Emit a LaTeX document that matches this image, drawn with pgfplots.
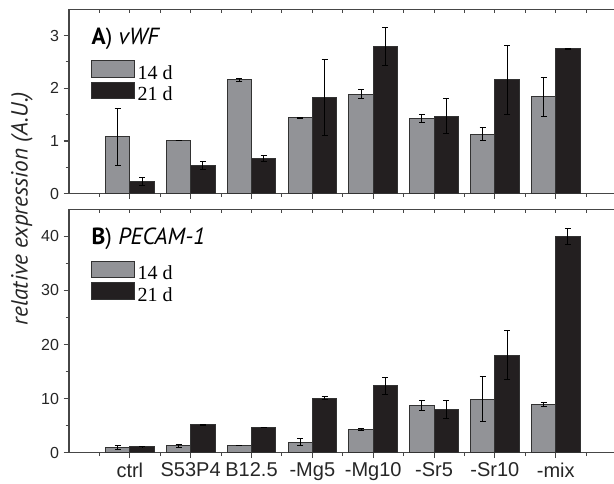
\documentclass[border=0pt]{standalone}
\usepackage{fontspec}
\setmainfont{Liberation Sans}
\newfontfamily\legfont{Liberation Serif}
\newfontfamily\ttlfont{PT Sans}
\usepackage{pgfplots}
\pgfplotsset{compat=1.18}
\usepackage{pgfplotstable}
\definecolor{bargray}{RGB}{146,147,151}
\definecolor{barblack}{RGB}{35,31,32}
\definecolor{edge}{RGB}{50,50,50}
\definecolor{axcol}{RGB}{70,70,70}

\pgfplotstableread{
x y e
1 1.08 0.54
2 1.00 0
3 2.16 0.03
4 1.44 0.01
5 1.89 0.09
6 1.42 0.075
7 1.13 0.13
8 1.84 0.37
}\vwfA
\pgfplotstableread{
x y e
1 0.23 0.08
2 0.53 0.08
3 0.67 0.05
4 1.82 0.72
5 2.80 0.36
6 1.47 0.33
7 2.16 0.66
8 2.75 0.01
}\vwfB
\pgfplotstableread{
x y e
1 0.95 0.4
2 1.30 0.3
3 1.30 0
4 1.90 0.65
5 4.31 0.12
6 8.69 0.98
7 9.92 4.1
8 8.87 0.4
}\pecA
\pgfplotstableread{
x y e
1 1.10 0.05
2 5.17 0.08
3 4.74 0
4 10.10 0.3
5 12.38 1.55
6 7.95 1.66
7 18.05 4.5
8 40.00 1.5
}\pecB

\pgfplotsset{
  panel/.style={
    scale only axis,
    width=408.75pt,
    xmin=0, xmax=8.958,
    axis x line*=bottom, axis y line*=left,
    axis line style={axcol, line width=0.8pt},
    xtick={1,...,8},
    minor xtick={0.5,1.5,...,8.5},
    tick align=outside,
    major tick length=4pt, minor tick length=2.5pt,
    every tick/.style={axcol, line width=0.8pt},
    /pgf/number format/assume math mode=true,
    yticklabel style={font=\fontsize{12}{13}\selectfont, text=black!85},
    xticklabel style={font=\fontsize{15}{16}\selectfont, text=black!85},
    ybar, bar width=0.4,
    legend image code/.code={\draw[##1] (0pt,-2.8pt) rectangle (32.25pt,9.7pt);},
    legend cell align=left,
    legend style={draw=none, fill=none, anchor=north west, inner sep=0pt,
      font=\legfont\fontsize{15}{16}\selectfont, row sep=-2pt,
      /tikz/every even column/.append style={column sep=0pt}},
  },
  gbar/.style={fill=bargray, draw=edge, line width=0.75pt, bar shift=-0.2,
    error bars/.cd, y dir=both, y explicit,
    error bar style={black, line width=0.75pt},
    error mark options={rotate=90, mark size=2.25pt, black, line width=0.75pt}},
  kbar/.style={fill=barblack, draw=edge, line width=0.75pt, bar shift=0.2,
    error bars/.cd, y dir=both, y explicit,
    error bar style={black, line width=0.75pt},
    error mark options={rotate=90, mark size=2.25pt, black, line width=0.75pt}},
  topline/.style={
    scale only axis, width=408.75pt,
    xmin=0, xmax=8.958, ymin=0, ymax=1,
    axis x line*=top, axis y line=none,
    axis line style={axcol, line width=0.8pt},
    xtick={0.5,1,...,8.5}, xticklabels={},
    tick align=inside, major tick length=2.5pt,
    every tick/.style={axcol, line width=0.8pt},
  },
}

\begin{document}
\begin{tikzpicture}
% top panel
\begin{axis}[panel, at={(0pt,194.25pt)}, height=138.3pt,
  ymin=0, ymax=3.5, ytick={0,1,2,3}, minor ytick={0.5,1.5,2.5},
  xticklabels={},
  legend style={at={(0.0398,0.725)}}]
\addplot[gbar] table[x=x, y=y, y error=e] {\vwfA};
\addlegendentry{14 d}
\addplot[kbar] table[x=x, y=y, y error=e] {\vwfB};
\addlegendentry{21 d}
\node[anchor=base west, font=\ttlfont\fontsize{17.5}{19}\selectfont] at (rel axis cs:0.0330,0.81) {\textbf{A}) \textit{vWF}};
\end{axis}
\begin{axis}[topline, at={(0pt,194.25pt)}, height=138.3pt]
\end{axis}
% bottom panel
\begin{axis}[panel, at={(0pt,0pt)}, height=182.55pt,
  ymin=0, ymax=45, ytick={0,10,20,30,40}, minor ytick={5,15,25,35},
  xticklabels={ctrl,S53P4,B12.5,-Mg5,-Mg10,-Sr5,-Sr10,-mix},
  legend style={at={(0.0398,0.7905)}}]
\addplot[gbar] table[x=x, y=y, y error=e] {\pecA};
\addlegendentry{14 d}
\addplot[kbar] table[x=x, y=y, y error=e] {\pecB};
\addlegendentry{21 d}
\node[anchor=base west, font=\ttlfont\fontsize{17.5}{19}\selectfont] at (rel axis cs:0.0330,0.857) {\textbf{B}) \textit{PECAM-1}};
\end{axis}
\begin{axis}[topline, at={(0pt,0pt)}, height=182.55pt]
\end{axis}
\node[rotate=90, font=\ttlfont\itshape\fontsize{17.5}{19}\selectfont, text=black!85] at (-35.25pt,183.15pt) {relative expression (A.U.)};
\pgfresetboundingbox
\path[use as bounding box] (-51.75pt,-23.475pt) rectangle (408.75pt,339.5pt);
\end{tikzpicture}
\end{document}
